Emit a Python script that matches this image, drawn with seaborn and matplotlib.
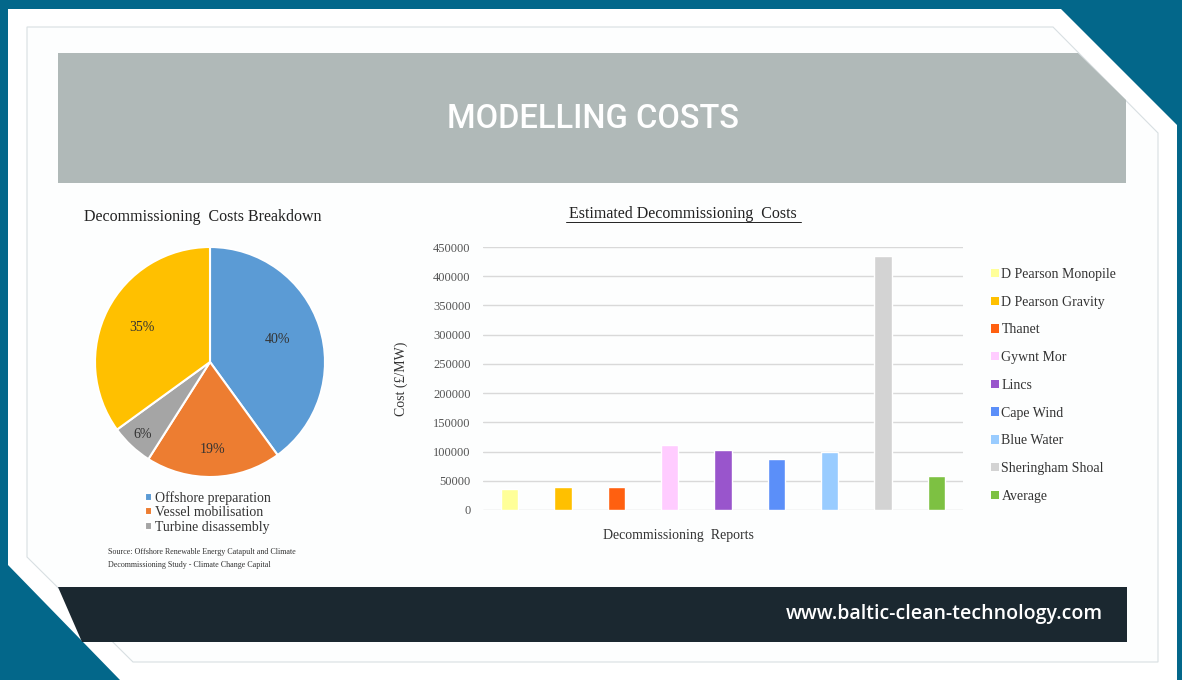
import numpy as np
import pandas as pd
import matplotlib
matplotlib.use("Agg")
import matplotlib.pyplot as plt
from matplotlib.patches import Polygon, Patch
import seaborn as sns

# ---- data ----
pie_labels = ["Offshore preparation", "Vessel mobilisation", "Turbine disassembly", "Other works"]
pie_shares = [40, 19, 6, 35]
pie_colors = ["#5b9bd5", "#ed7d31", "#a5a5a5", "#ffc000"]

sites = ["D Pearson Monopile", "D Pearson Gravity", "Thanet", "Gywnt Mor", "Lincs",
         "Cape Wind", "Blue Water", "Sheringham Shoal", "Average"]
costs = [36000, 40000, 40000, 112000, 102000, 88000, 100000, 434000, 58000]
site_colors = ["#ffff99", "#ffc000", "#ff6010", "#ffccff", "#9955cc",
               "#5b8ff9", "#99ccff", "#d3d3d3", "#7dc142"]
y_ticks = list(range(0, 450001, 50000))

sns.set_theme(style="white")
serif = ["Liberation Serif", "DejaVu Serif"]
plt.rcParams["font.family"] = serif

W, H = 1182, 680
fig = plt.figure(figsize=(W / 100, H / 100), dpi=100)
fig.patch.set_facecolor("#03678a")

# ---- slide background (pixel coordinates) ----
bg = fig.add_axes([0, 0, 1, 1], zorder=0)
bg.set_xlim(0, W)
bg.set_ylim(H, 0)
bg.axis("off")
bg.add_patch(Polygon([(8, 9), (1061, 9), (1177, 125), (1177, 680), (120, 680), (8, 565)],
                     closed=True, fc="white", ec="none"))
bg.add_patch(Polygon([(27, 27), (1053, 27), (1158, 133), (1158, 662), (133, 662), (27, 557)],
                     closed=True, fc="#fdfefe", ec="#d8dfe2", lw=0.8))
bg.add_patch(Polygon([(58, 53), (1078, 53), (1126, 100), (1126, 183), (58, 183)],
                     closed=True, fc="#b0b9b8", ec="none"))
bg.add_patch(Polygon([(58, 587), (1127, 587), (1127, 642), (82, 642)],
                     closed=True, fc="#1b2830", ec="none"))
bg.text(593, 119, "MODELLING COSTS", color="white", fontsize=23.5, ha="center", va="center",
        family=["Roboto", "Open Sans", "DejaVu Sans"], fontweight="medium")
bg.text(1103, 614, "www.baltic-clean-technology.com", color="white", fontsize=14, ha="right",
        va="center", family=["Open Sans", "DejaVu Sans"], fontweight="semibold")

# ---- pie chart ----
bg.text(203, 217, "Decommissioning  Costs Breakdown", fontsize=11.5, ha="center", va="center",
        color="#222222")
cx, cy, r = 210, 362, 115
ax_pie = fig.add_axes([(cx - r) / W, (H - cy - r) / H, 2 * r / W, 2 * r / H], zorder=2)
ax_pie.set_facecolor("none")
wedges, _ = ax_pie.pie(pie_shares, colors=pie_colors, startangle=90, counterclock=False,
                       radius=1, wedgeprops=dict(edgecolor="white", linewidth=1.5))
ax_pie.set_xlim(-1, 1)
ax_pie.set_ylim(-1, 1)
ax_pie.set_aspect("auto")
label_dist = [0.62, 0.76, 0.86, 0.66]
for w, share, d in zip(wedges, pie_shares, label_dist):
    ang = np.deg2rad((w.theta1 + w.theta2) / 2)
    ax_pie.text(d * np.cos(ang), d * np.sin(ang), f"{share}%", ha="center", va="center",
                fontsize=10, color="#333333")
fig.legend(handles=wedges[:3], labels=pie_labels[:3], loc="upper left",
           bbox_to_anchor=(138 / W, 1 - 484 / H), frameon=False, fontsize=10,
           handlelength=0.5, handleheight=0.5, handletextpad=0.25, labelspacing=0.1,
           borderpad=0, labelcolor="#333333")
bg.text(108, 552, "Source: Offshore Renewable Energy Catapult and Climate", fontsize=5.8,
        va="center", color="#333333")
bg.text(108, 565, "Decommissioning Study - Climate Change Capital", fontsize=5.8,
        va="center", color="#333333")

# ---- bar chart ----
df = pd.DataFrame({"site": sites, "cost": costs})
ax = fig.add_axes([483 / W, 1 - 510 / H, 480 / W, 263 / H], zorder=2)
ax.set_facecolor("none")
sns.barplot(data=df, x="site", y="cost", hue="site", palette=site_colors, width=0.33,
            legend=False, ax=ax, saturation=1)
ax.set_ylim(0, 450000)
ax.set_xlim(-0.5, len(sites) - 0.5)
ax.set_yticks(y_ticks)
ax.set_yticklabels([str(v) for v in y_ticks], fontsize=9, color="#555555")
ax.set_xticks([])
ax.grid(axis="y", color="#d9d9d9", lw=1)
ax.set_axisbelow(True)
for s in ax.spines.values():
    s.set_visible(False)
ax.tick_params(axis="y", length=0, pad=9)
ax.set_xlabel("Decommissioning  Reports", fontsize=10, color="#333333")
ax.set_ylabel("Cost (£/MW)", fontsize=10, color="#333333")
ax.xaxis.set_label_coords((678 - 483) / 480, -(535 - 510) / 263)
ax.yaxis.set_label_coords((401 - 483) / 480, 0.5)
ax.xaxis.label.set_va("center")
ax.yaxis.label.set_va("center")

bg.text(683, 214, "Estimated Decommissioning  Costs", fontsize=11.5, ha="center", va="center",
        color="#222222")
bg.plot([566, 801], [222, 222], color="#222222", lw=0.7)

handles = [Patch(facecolor=c, edgecolor="none") for c in site_colors]
fig.legend(handles=handles, labels=sites, loc="upper left",
           bbox_to_anchor=(984 / W, 1 - 261 / H), frameon=False, fontsize=10,
           handlelength=0.55, handleheight=0.55, handletextpad=0.2, labelspacing=1.06,
           borderpad=0, labelcolor="#333333")

fig.savefig("out.png", dpi=100, facecolor=fig.get_facecolor())
